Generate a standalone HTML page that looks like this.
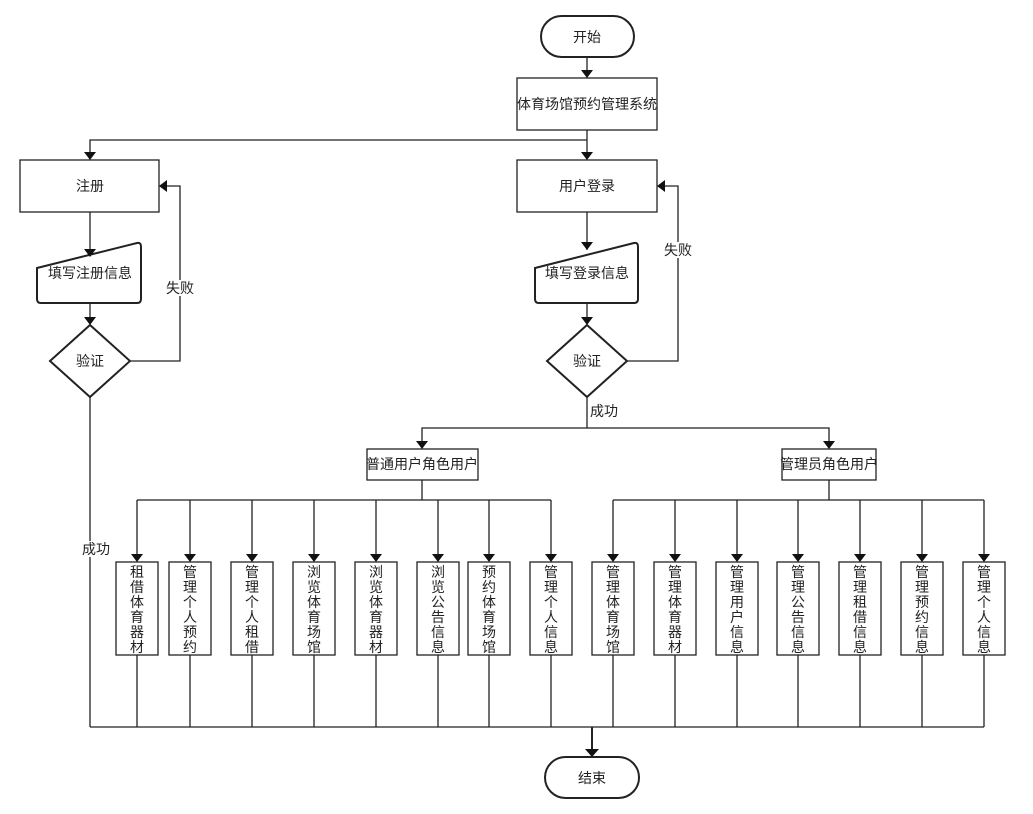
<!DOCTYPE html>
<html><head><meta charset="utf-8">
<style>
html,body{margin:0;padding:0;background:#fff;}
svg{display:block;}
text{font-family:"Liberation Sans","Noto Sans CJK SC",sans-serif;font-size:14px;fill:#222;}
.v{font-size:14px;}
</style></head><body>
<svg width="1033" height="814" viewBox="0 0 1033 814" xmlns="http://www.w3.org/2000/svg">
<g stroke="#222" stroke-width="1.3" fill="none">
<rect x="541" y="16" width="93" height="41" rx="20.5" stroke-width="2" fill="#fff"/>
<line x1="587" y1="57" x2="587" y2="72"/>
<rect x="517" y="78" width="140" height="52" fill="#fff"/>
<line x1="587" y1="130" x2="587" y2="154"/>
<polyline points="587,140 90,140 90,154"/>
<rect x="20" y="160" width="139" height="52" fill="#fff"/>
<rect x="517" y="160" width="140" height="52" fill="#fff"/>
<line x1="90" y1="212" x2="90" y2="250"/>
<path d="M37,268 L137,243 Q141,242 141,247 L141,299 Q141,303 137,303 L41,303 Q37,303 37,299 Z" stroke-width="2" fill="#fff"/>
<line x1="90" y1="303" x2="90" y2="319"/>
<polygon points="90,325 130,361 90,397 50,361" stroke-width="2" fill="#fff"/>
<polyline points="130,361 180,361 180,186 165,186"/>
<line x1="90" y1="397" x2="90" y2="727"/>
<line x1="587" y1="212" x2="587" y2="250"/>
<path d="M535,268 L634,243 Q638,242 638,247 L638,299 Q638,303 634,303 L539,303 Q535,303 535,299 Z" stroke-width="2" fill="#fff"/>
<line x1="587" y1="303" x2="587" y2="319"/>
<polygon points="587,325 627,361 587,397 547,361" stroke-width="2" fill="#fff"/>
<polyline points="627,361 678,361 678,186 663,186"/>
<line x1="587" y1="397" x2="587" y2="428"/>
<polyline points="422,443 422,428 829,428 829,443"/>
<rect x="367" y="449" width="111" height="31" fill="#fff"/>
<rect x="782" y="449" width="94" height="31" fill="#fff"/>
<line x1="422" y1="480" x2="422" y2="500"/>
<line x1="829" y1="480" x2="829" y2="500"/>
<line x1="137" y1="500" x2="551" y2="500"/>
<line x1="613" y1="500" x2="984" y2="500"/>
<line x1="90" y1="727" x2="984" y2="727"/>
<line x1="592" y1="727" x2="592" y2="750" stroke-width="2"/>
<rect x="545" y="757" width="94" height="41" rx="20.5" stroke-width="2" fill="#fff"/>
<path d="M137,500V555M190,500V555M252,500V555M314,500V555M376,500V555M438,500V555M489,500V555M551,500V555M613,500V555M675,500V555M737,500V555M798,500V555M860,500V555M922,500V555M984,500V555"/>
<path d="M137,655V727M190,655V727M252,655V727M314,655V727M376,655V727M438,655V727M489,655V727M551,655V727M613,655V727M675,655V727M737,655V727M798,655V727M860,655V727M922,655V727M984,655V727"/>
<g fill="#fff">
<rect x="116" y="562" width="42" height="93"/>
<rect x="169" y="562" width="42" height="93"/>
<rect x="231" y="562" width="42" height="93"/>
<rect x="293" y="562" width="42" height="93"/>
<rect x="355" y="562" width="42" height="93"/>
<rect x="417" y="562" width="42" height="93"/>
<rect x="468" y="562" width="42" height="93"/>
<rect x="530" y="562" width="42" height="93"/>
<rect x="592" y="562" width="42" height="93"/>
<rect x="654" y="562" width="42" height="93"/>
<rect x="716" y="562" width="42" height="93"/>
<rect x="777" y="562" width="42" height="93"/>
<rect x="839" y="562" width="42" height="93"/>
<rect x="901" y="562" width="42" height="93"/>
<rect x="963" y="562" width="42" height="93"/>
</g>
</g>
<g fill="#111">
<polygon points="581,70 593,70 587,78"/>
<polygon points="84,152 96,152 90,160"/>
<polygon points="581,152 593,152 587,160"/>
<polygon points="167,180 167,192 159,186"/>
<polygon points="665,180 665,192 657,186"/>
<polygon points="84,249 96,249 90,257"/>
<polygon points="581,242 593,242 587,250"/>
<polygon points="84,317 96,317 90,325"/>
<polygon points="581,317 593,317 587,325"/>
<polygon points="416,441 428,441 422,449"/>
<polygon points="823,441 835,441 829,449"/>
<polygon points="585,749 599,749 592,757"/>
<polygon points="131,554 143,554 137,562"/>
<polygon points="184,554 196,554 190,562"/>
<polygon points="246,554 258,554 252,562"/>
<polygon points="308,554 320,554 314,562"/>
<polygon points="370,554 382,554 376,562"/>
<polygon points="432,554 444,554 438,562"/>
<polygon points="483,554 495,554 489,562"/>
<polygon points="545,554 557,554 551,562"/>
<polygon points="607,554 619,554 613,562"/>
<polygon points="669,554 681,554 675,562"/>
<polygon points="731,554 743,554 737,562"/>
<polygon points="792,554 804,554 798,562"/>
<polygon points="854,554 866,554 860,562"/>
<polygon points="916,554 928,554 922,562"/>
<polygon points="978,554 990,554 984,562"/>
</g>
<text x="587" y="42" text-anchor="middle">开始</text>
<text x="587" y="109" text-anchor="middle">体育场馆预约管理系统</text>
<text x="90" y="191" text-anchor="middle">注册</text>
<text x="587" y="191" text-anchor="middle">用户登录</text>
<text x="90" y="278" text-anchor="middle">填写注册信息</text>
<text x="587" y="278" text-anchor="middle">填写登录信息</text>
<text x="90" y="366" text-anchor="middle">验证</text>
<text x="587" y="366" text-anchor="middle">验证</text>
<rect x="166" y="280" width="28" height="16" fill="#fff"/>
<text x="180" y="293" text-anchor="middle">失败</text>
<rect x="664" y="242" width="28" height="16" fill="#fff"/>
<text x="678" y="255" text-anchor="middle">失败</text>
<text x="604" y="416" text-anchor="middle">成功</text>
<rect x="81" y="541" width="30" height="16" fill="#fff"/>
<text x="96" y="554" text-anchor="middle">成功</text>
<text x="422" y="469" text-anchor="middle">普通用户角色用户</text>
<text x="829" y="469" text-anchor="middle">管理员角色用户</text>
<text x="592" y="783" text-anchor="middle">结束</text>
<g text-anchor="middle" class="v">
<text x="137" y="577"><tspan x="137">租</tspan><tspan x="137" dy="15">借</tspan><tspan x="137" dy="15">体</tspan><tspan x="137" dy="15">育</tspan><tspan x="137" dy="15">器</tspan><tspan x="137" dy="15">材</tspan></text>
<text x="190" y="577"><tspan x="190">管</tspan><tspan x="190" dy="15">理</tspan><tspan x="190" dy="15">个</tspan><tspan x="190" dy="15">人</tspan><tspan x="190" dy="15">预</tspan><tspan x="190" dy="15">约</tspan></text>
<text x="252" y="577"><tspan x="252">管</tspan><tspan x="252" dy="15">理</tspan><tspan x="252" dy="15">个</tspan><tspan x="252" dy="15">人</tspan><tspan x="252" dy="15">租</tspan><tspan x="252" dy="15">借</tspan></text>
<text x="314" y="577"><tspan x="314">浏</tspan><tspan x="314" dy="15">览</tspan><tspan x="314" dy="15">体</tspan><tspan x="314" dy="15">育</tspan><tspan x="314" dy="15">场</tspan><tspan x="314" dy="15">馆</tspan></text>
<text x="376" y="577"><tspan x="376">浏</tspan><tspan x="376" dy="15">览</tspan><tspan x="376" dy="15">体</tspan><tspan x="376" dy="15">育</tspan><tspan x="376" dy="15">器</tspan><tspan x="376" dy="15">材</tspan></text>
<text x="438" y="577"><tspan x="438">浏</tspan><tspan x="438" dy="15">览</tspan><tspan x="438" dy="15">公</tspan><tspan x="438" dy="15">告</tspan><tspan x="438" dy="15">信</tspan><tspan x="438" dy="15">息</tspan></text>
<text x="489" y="577"><tspan x="489">预</tspan><tspan x="489" dy="15">约</tspan><tspan x="489" dy="15">体</tspan><tspan x="489" dy="15">育</tspan><tspan x="489" dy="15">场</tspan><tspan x="489" dy="15">馆</tspan></text>
<text x="551" y="577"><tspan x="551">管</tspan><tspan x="551" dy="15">理</tspan><tspan x="551" dy="15">个</tspan><tspan x="551" dy="15">人</tspan><tspan x="551" dy="15">信</tspan><tspan x="551" dy="15">息</tspan></text>
<text x="613" y="577"><tspan x="613">管</tspan><tspan x="613" dy="15">理</tspan><tspan x="613" dy="15">体</tspan><tspan x="613" dy="15">育</tspan><tspan x="613" dy="15">场</tspan><tspan x="613" dy="15">馆</tspan></text>
<text x="675" y="577"><tspan x="675">管</tspan><tspan x="675" dy="15">理</tspan><tspan x="675" dy="15">体</tspan><tspan x="675" dy="15">育</tspan><tspan x="675" dy="15">器</tspan><tspan x="675" dy="15">材</tspan></text>
<text x="737" y="577"><tspan x="737">管</tspan><tspan x="737" dy="15">理</tspan><tspan x="737" dy="15">用</tspan><tspan x="737" dy="15">户</tspan><tspan x="737" dy="15">信</tspan><tspan x="737" dy="15">息</tspan></text>
<text x="798" y="577"><tspan x="798">管</tspan><tspan x="798" dy="15">理</tspan><tspan x="798" dy="15">公</tspan><tspan x="798" dy="15">告</tspan><tspan x="798" dy="15">信</tspan><tspan x="798" dy="15">息</tspan></text>
<text x="860" y="577"><tspan x="860">管</tspan><tspan x="860" dy="15">理</tspan><tspan x="860" dy="15">租</tspan><tspan x="860" dy="15">借</tspan><tspan x="860" dy="15">信</tspan><tspan x="860" dy="15">息</tspan></text>
<text x="922" y="577"><tspan x="922">管</tspan><tspan x="922" dy="15">理</tspan><tspan x="922" dy="15">预</tspan><tspan x="922" dy="15">约</tspan><tspan x="922" dy="15">信</tspan><tspan x="922" dy="15">息</tspan></text>
<text x="984" y="577"><tspan x="984">管</tspan><tspan x="984" dy="15">理</tspan><tspan x="984" dy="15">个</tspan><tspan x="984" dy="15">人</tspan><tspan x="984" dy="15">信</tspan><tspan x="984" dy="15">息</tspan></text>
</g>
</svg>
</body></html>
